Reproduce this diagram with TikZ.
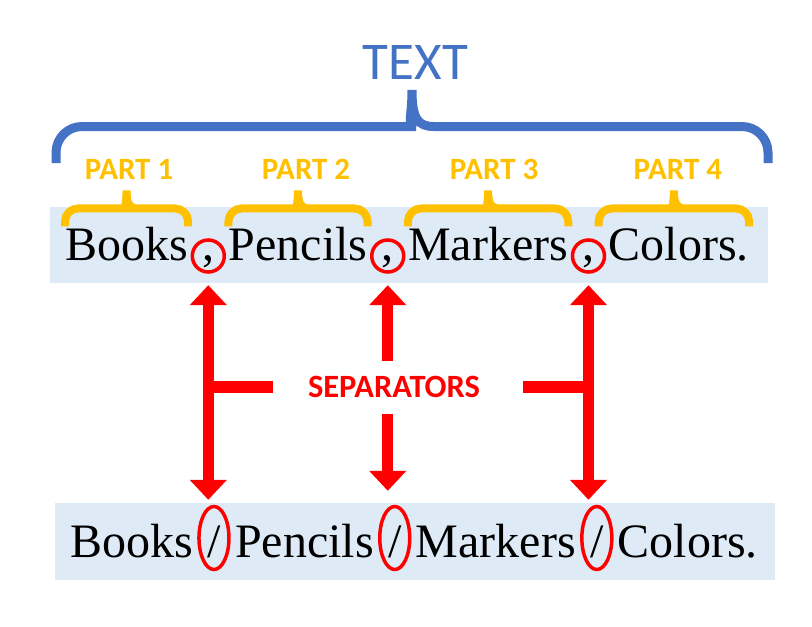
\documentclass[tikz,border=0pt]{standalone}
\usepackage{fontspec}
\setmainfont{Liberation Serif}
\newfontfamily\calibri{Carlito}
\usepackage{xcolor}
\usepackage{tikz}
\usetikzlibrary{positioning, arrows.meta, shapes.geometric, calc}

\definecolor{textblue}{HTML}{4472C4}
\definecolor{partyellow}{HTML}{FFC000}
\definecolor{sepred}{HTML}{FF0000}
\definecolor{bandblue}{HTML}{DEEBF7}

\begin{document}
\begin{tikzpicture}[
        x=1pt, y=-1pt,
        band/.style={fill=bandblue, draw=none, inner sep=0pt},
        word/.style={inner sep=0pt, font=\fontsize{48}{50}\selectfont},
        punct/.style={word, text height=14pt, text depth=6pt},
        slashmark/.style={word, text height=38pt, text depth=0pt},
        ring/.style={circle, draw=sepred, line width=3.5pt, minimum size=32pt, inner sep=0pt},
        oval/.style={ellipse, draw=sepred, line width=3.5pt, minimum width=30pt, minimum height=63pt, inner sep=0pt},
        bigbrace/.style={draw=textblue, line width=9pt, to path={
            let \p1=(\tikztostart), \p2=(\tikztotarget), \n1={(\x1+\x2)/2} in
            [rounded corners=26pt] (\p1) -- (\x1,\y1+36.5pt) -- (\n1-22pt,\y1+36.5pt) [sharp corners]
            .. controls (\n1-6pt,\y1+36.5pt) and (\n1,\y1+44pt) .. (\n1,\y1+73pt)
            .. controls (\n1,\y1+44pt) and (\n1+6pt,\y1+36.5pt) .. (\n1+22pt,\y1+36.5pt)
            [rounded corners=26pt] -- (\x2,\y1+36.5pt) -- (\p2)}},
        partbrace/.style={draw=partyellow, line width=8pt, to path={
            let \p1=(\tikztostart), \p2=(\tikztotarget), \n1={(\x1+\x2)/2} in
            [rounded corners=13pt] (\p1) -- (\x1,\y1+18pt) -- (\n1-12pt,\y1+18pt) [sharp corners]
            .. controls (\n1-3pt,\y1+18pt) and (\n1,\y1+22pt) .. (\n1,\y1+36pt)
            .. controls (\n1,\y1+22pt) and (\n1+3pt,\y1+18pt) .. (\n1+12pt,\y1+18pt)
            [rounded corners=13pt] -- (\x2,\y1+18pt) -- (\p2)}},
        textlbl/.style={inner sep=0pt, text=textblue, font=\calibri\fontsize{53}{55}\selectfont},
        partlbl/.style={inner sep=0pt, text=partyellow, font=\calibri\bfseries\fontsize{31}{33}\selectfont},
        seplbl/.style={inner sep=0pt, text=sepred, font=\calibri\bfseries\fontsize{32.5}{34}\selectfont},
        sepline/.style={draw=sepred, line width=11pt},
        septip/.style={sepline, -{Triangle[width=36pt, length=20pt]}},
        seppair/.style={sepline, {Triangle[width=36pt, length=20pt]}-{Triangle[width=36pt, length=20pt]}},
        stubline/.style={draw=sepred, line width=12pt},
    ]
    \useasboundingbox (0,0) rectangle (812,627);

    % ---- Background bands ----
    \node[band, minimum width=718pt, minimum height=76pt] (row1) at (409,245) {};
    \node[band, minimum width=720pt, minimum height=77pt] (row2) at (415,541.5) {};

    % ---- Comma separated text ----
    \node[word, anchor=base west] (w1) at (65,260) {Books};
    \node[punct, base right=14pt of w1] (k1) {,};
    \node[word, base right=14pt of k1] (w2) {Pencils};
    \node[punct, base right=14pt of w2] (k2) {,};
    \node[word, base right=14pt of k2] (w3) {Markers};
    \node[punct, base right=14pt of w3] (k3) {,};
    \node[word, base right=14pt of k3] (w4) {Colors.};

    \node[ring] (c1) at (k1) {};
    \node[ring] (c2) at (k2) {};
    \node[ring] (c3) at (k3) {};

    % ---- Slash separated text ----
    \node[word, anchor=base west] (b1) at (70,557) {Books};
    \node[slashmark, base right=14pt of b1] (s1) {/};
    \node[word, base right=14pt of s1] (b2) {Pencils};
    \node[slashmark, base right=14pt of b2] (s2) {/};
    \node[word, base right=14pt of s2] (b3) {Markers};
    \node[slashmark, base right=14pt of b3] (s3) {/};
    \node[word, base right=14pt of s3] (b4) {Colors.};

    \node[oval] (e1) at (s1) {};
    \node[oval] (e2) at (s2) {};
    \node[oval] (e3) at (s3) {};

    % ---- Braces ----
    \coordinate (bl) at (56,163);
    \coordinate (br) at (768,163);
    \draw[bigbrace] (bl) to (br);
    \node[textlbl, above=127pt of row1, xshift=6.5pt] (whole) {TEXT};

    \draw[partbrace] (w1.north west) to (w1.north east);
    \draw[partbrace] (w2.north west) to (w2.north east);
    \draw[partbrace] (w3.north west) to (w3.north east);
    \draw[partbrace] ([xshift=-10pt]w4.north west) to (w4.north east);

    \node[partlbl, above=47pt of w1, xshift=2.5pt] (p1) {PART 1};
    \node[partlbl, above=47pt of w2, xshift=8pt] (p2) {PART 2};
    \node[partlbl, above=47pt of w3, xshift=6pt] (p3) {PART 3};
    \node[partlbl, above=47pt of w4, xshift=-1pt] (p4) {PART 4};

    % ---- Separator arrows ----
    \node[seplbl] (sep) at (394,387) {SEPARATORS};

    \draw[seppair, shorten <=2pt, shorten >=3pt] (c1 |- row1.south) -- (c1 |- row2.north);
    \draw[seppair, shorten <=2pt, shorten >=3pt] (c3 |- row1.south) -- (c3 |- row2.north);
    \draw[septip, shorten <=15pt, shorten >=2pt] (c2 |- sep.north) -- (c2 |- row1.south);
    \draw[septip, shorten <=16pt, shorten >=12pt] (c2 |- sep.south) -- (c2 |- row2.north);

    \draw[stubline, yshift=-4pt, shorten >=35pt] (c1 |- sep.west) -- (sep.west);
    \draw[stubline, yshift=-4pt, shorten <=43pt] (sep.east) -- (c3 |- sep.east);
\end{tikzpicture}
\end{document}
